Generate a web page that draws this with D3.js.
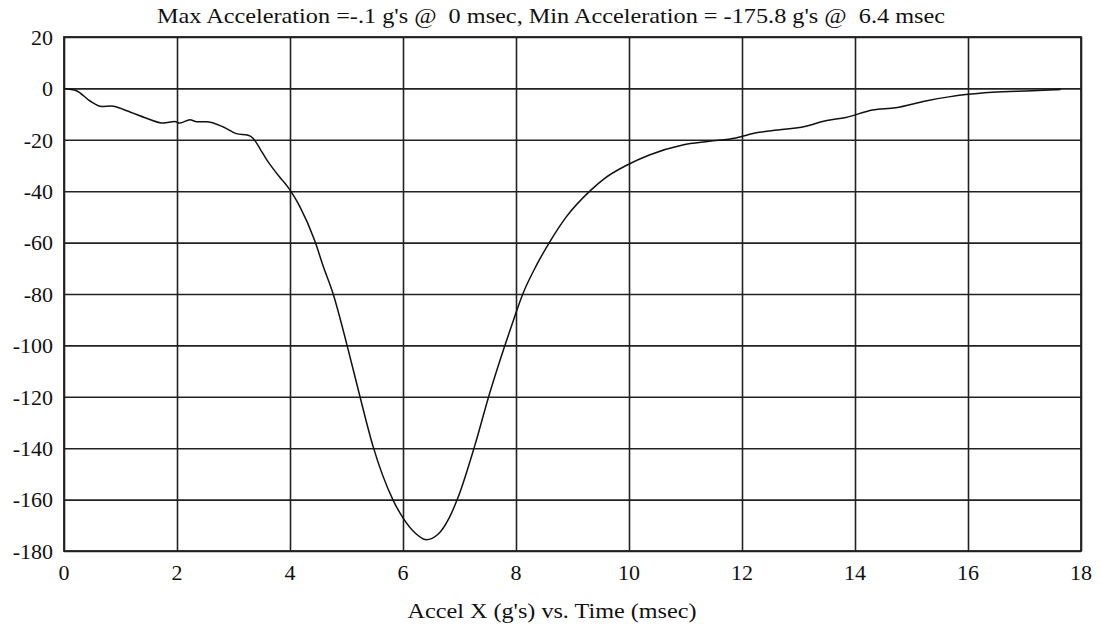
<!DOCTYPE html>
<html><head><meta charset="utf-8">
<script src="https://cdn.jsdelivr.net/npm/d3@7"></script>
<style>body{margin:0;background:#fff}svg{display:block}
text{font-family:"Liberation Serif","DejaVu Serif","Times New Roman",Times,serif;fill:#111}</style>
</head><body>
<svg id="chart" width="1101" height="629"></svg>
<script>
const titleText = "Max Acceleration =-.1 g's @  0 msec, Min Acceleration = -175.8 g's @  6.4 msec";
const xTitle = "Accel X (g's) vs. Time (msec)";
const xTicks = [0,2,4,6,8,10,12,14,16,18];
const yTicks = [20,0,-20,-40,-60,-80,-100,-120,-140,-160,-180];
const timeMs = [0,0.22,0.46,0.67,0.84,1.11,1.46,1.76,1.96,2.05,2.23,2.35,2.52,2.82,3.05,3.26,3.35,3.47,3.58,3.70,3.82,3.97,4.05,4.17,4.44,4.58,4.76,5.0,5.23,5.47,5.82,6.0,6.21,6.41,6.62,6.82,6.97,7.27,7.53,7.80,7.97,8.12,8.37,8.59,8.89,9.33,9.57,9.95,10.36,10.95,11.42,11.89,12.25,12.48,13.13,13.48,13.84,14.31,14.72,15.25,15.66,15.96,16.43,17.14,17.64];
const accelG = [0,-0.9,-4.9,-7.0,-6.8,-8.7,-11.6,-13.5,-12.9,-13.5,-12.2,-13.0,-13.0,-15.0,-17.6,-18.2,-19.5,-23.5,-27.5,-31.2,-34.6,-38.6,-41.2,-45.8,-59.4,-68.7,-79.7,-99.1,-119.2,-139.3,-160.0,-167.1,-172.9,-175.6,-173.5,-167.0,-159.4,-139.0,-118.9,-100.2,-89.2,-80.0,-68.5,-60.0,-50.0,-39.5,-35.0,-30.0,-25.9,-22.0,-20.6,-19.3,-17.3,-16.6,-14.7,-12.6,-11.3,-8.4,-7.5,-4.9,-3.3,-2.4,-1.5,-0.9,-0.4];

const svg = d3.select("#chart");
const W = 1101, H = 629;
const m = {left:64, right:W-1081, top:37, bottom:H-551};
const x = d3.scaleLinear().domain([0,18]).range([m.left, W-m.right]);
const y = d3.scaleLinear().domain([-180,20]).range([H-m.bottom, m.top]);
const ink = "#222";

const g = svg.append("g");
g.append("g").call(d3.axisLeft(y).tickValues(yTicks).tickSize(-(x.range()[1]-x.range()[0])).tickFormat(""))
  .attr("transform",`translate(${m.left},0)`)
  .call(s=>s.select(".domain").remove())
  .call(s=>s.selectAll("line").attr("stroke",ink).attr("stroke-width",1.6));
g.append("g").call(d3.axisBottom(x).tickValues(xTicks).tickSize(-(y.range()[0]-y.range()[1])).tickFormat(""))
  .attr("transform",`translate(0,${y.range()[0]})`)
  .call(s=>s.select(".domain").remove())
  .call(s=>s.selectAll("line").attr("stroke",ink).attr("stroke-width",1.6));
g.append("rect").attr("x",x(0)).attr("y",y(20)).attr("width",x(18)-x(0)).attr("height",y(-180)-y(20))
  .attr("fill","none").attr("stroke",ink).attr("stroke-width",1.8);

g.append("g").selectAll("text").data(yTicks).join("text")
  .attr("x",x(0)-11).attr("y",d=>y(d)).attr("dy","0.35em").attr("text-anchor","end")
  .attr("font-size",22).text(d=>d);
g.append("g").selectAll("text").data(xTicks).join("text")
  .attr("x",d=>x(d)).attr("y",y(-180)+29).attr("text-anchor","middle")
  .attr("font-size",22).text(d=>d);

const line = d3.line().x((d,i)=>x(timeMs[i])).y(d=>y(d)).curve(d3.curveMonotoneX);
g.append("path").datum(accelG).attr("d",line).attr("fill","none").attr("stroke","#111").attr("stroke-width",1.5);

svg.append("text").attr("x",551).attr("y",23).attr("text-anchor","middle")
  .attr("font-size",22).attr("textLength",788).attr("lengthAdjust","spacingAndGlyphs")
  .style("white-space","pre").text(titleText);
svg.append("text").attr("x",552).attr("y",618).attr("text-anchor","middle")
  .attr("font-size",22).attr("textLength",289).attr("lengthAdjust","spacingAndGlyphs")
  .text(xTitle);
</script>
</body></html>
